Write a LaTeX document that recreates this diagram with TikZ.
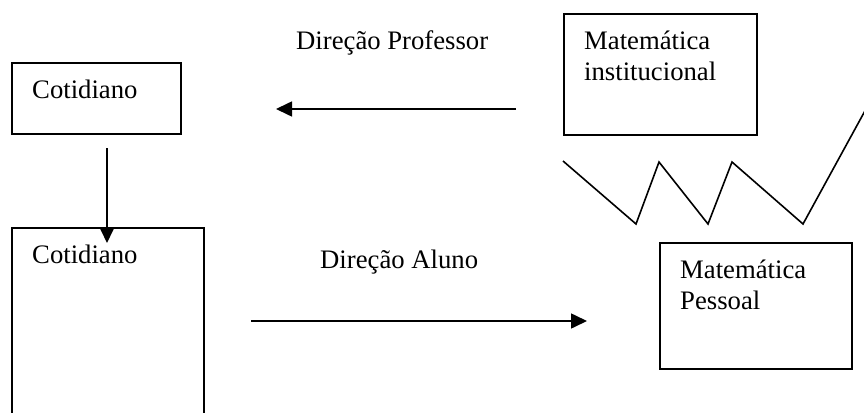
\documentclass[tikz,border=0pt]{standalone}
\usepackage{fontspec}
\setmainfont{Liberation Serif}
\usetikzlibrary{arrows.meta}
\begin{document}
\begin{tikzpicture}[x=1pt,y=-1pt,
  box/.style={draw=black,line width=1.6pt,inner sep=0pt,anchor=north west},
  txt/.style={anchor=base west,inner sep=0pt,font=\fontsize{26.7}{30}\selectfont},
  arr/.style={line width=1.6pt,-{Triangle[length=16pt,width=15pt]}},
  zig/.style={line width=1.6pt,line join=miter}]
\useasboundingbox (0,0) rectangle (864,412);
\clip (0,0) rectangle (864,412);
% boxes
\node[box,minimum width=169pt,minimum height=71pt] (cot1) at (11,62) {};
\node[box,minimum width=192pt,minimum height=220pt] (cot2) at (11,227) {};
\node[box,minimum width=193pt,minimum height=121pt] (matinst) at (563,13) {};
\node[box,minimum width=192pt,minimum height=126pt] (matpes) at (659,242) {};
% texts
\node[txt] (t1) at (32,98) {Cotidiano};
\node[txt] (t2) at (32,263) {Cotidiano};
\node[txt] (t3) at (584,50) {Matemática};
\node[txt] (t4) at (584,80) {institucional};
\node[txt] (t5) at (680,278) {Matemática};
\node[txt] (t6) at (680,309) {Pessoal};
\node[txt] (lp) at (296,49) {Direção Professor};
\node[txt] (la) at (320,268) {Direção Aluno};
% connectors
\coordinate (p1) at (516,109);
\coordinate (p2) at (276,109);
\coordinate (v1) at (107,148);
\coordinate (v2) at (107,243);
\coordinate (a1) at (251,321);
\coordinate (a2) at (587,321);
\draw[arr] (p1) -- (p2);
\draw[arr] (v1) -- (v2);
\draw[arr] (a1) -- (a2);
% zigzag
\coordinate (z0) at (563,161);
\coordinate (z1) at (636,224);
\coordinate (z2) at (659,162);
\coordinate (z3) at (708,224);
\coordinate (z4) at (732,162);
\coordinate (z5) at (803,224);
\coordinate (z6) at (872,98);
\draw[zig] (z0) -- (z1) -- (z2) -- (z3) -- (z4) -- (z5) -- (z6);
\end{tikzpicture}
\end{document}
